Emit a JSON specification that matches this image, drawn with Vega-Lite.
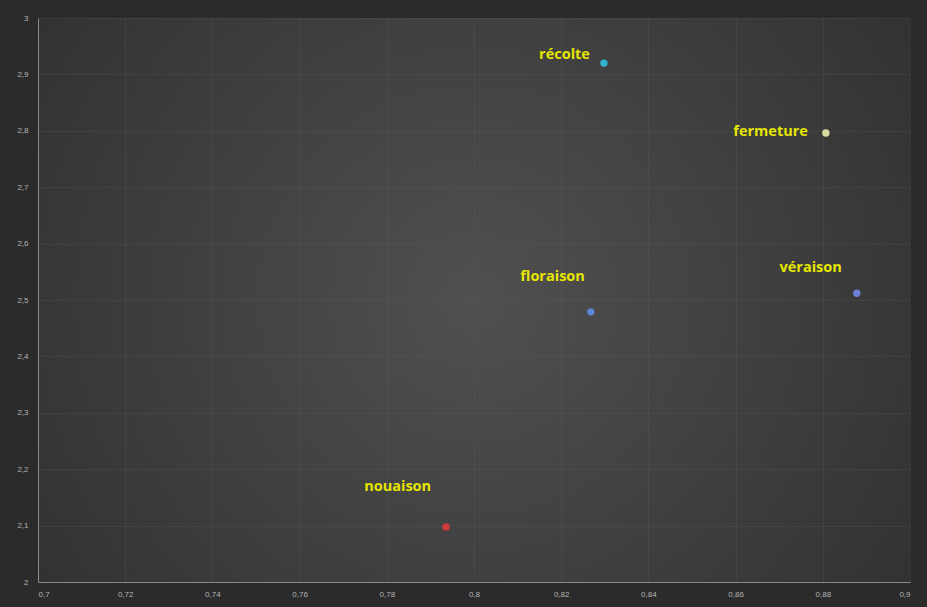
{
  "$schema": "https://vega.github.io/schema/vega-lite/v6.json",
  "width": 872,
  "height": 564,
  "autosize": {"type": "none"},
  "padding": {"left": 38, "top": 18, "right": 17, "bottom": 25},
  "background": "#2b2b2b",
  "config": {
    "view": {
      "stroke": null,
      "fill": {
        "gradient": "radial",
        "x1": 0.5, "y1": 0.5, "r1": 0,
        "x2": 0.5, "y2": 0.5, "r2": 0.75,
        "stops": [
          {"offset": 0, "color": "#505050"},
          {"offset": 1, "color": "#2a2a2a"}
        ]
      }
    },
    "axis": {
      "labelColor": "#b4b4b4",
      "labelFont": "Liberation Sans",
      "labelFontSize": 8,
      "gridColor": "#6a6a6a",
      "gridOpacity": 0.2,
      "domainColor": "#8a8a8a",
      "ticks": false,
      "title": null
    }
  },
  "data": {
    "values": [
      {"stade": "récolte", "x": 0.8298, "y": 2.920},
      {"stade": "fermeture", "x": 0.8807, "y": 2.796},
      {"stade": "véraison", "x": 0.8878, "y": 2.512},
      {"stade": "floraison", "x": 0.8268, "y": 2.479},
      {"stade": "nouaison", "x": 0.7936, "y": 2.0975}
    ]
  },
  "encoding": {
    "x": {
      "field": "x", "type": "quantitative",
      "scale": {"domain": [0.7, 0.9], "nice": false, "zero": false},
      "axis": {
        "values": [0.7, 0.72, 0.74, 0.76, 0.78, 0.8, 0.82, 0.84, 0.86, 0.88, 0.9],
        "labelExpr": "replace(toString(datum.value), '.', ',')",
        "labelPadding": 8
      }
    },
    "y": {
      "field": "y", "type": "quantitative",
      "scale": {"domain": [2, 3], "nice": false, "zero": false},
      "axis": {
        "values": [2, 2.1, 2.2, 2.3, 2.4, 2.5, 2.6, 2.7, 2.8, 2.9, 3],
        "labelExpr": "replace(toString(datum.value), '.', ',')",
        "labelPadding": 10
      }
    }
  },
  "layer": [
    {
      "mark": {"type": "point", "filled": true, "size": 55, "opacity": 1, "strokeWidth": 1},
      "encoding": {
        "color": {
          "field": "stade", "type": "nominal",
          "scale": {
            "domain": ["récolte", "fermeture", "véraison", "floraison", "nouaison"],
            "range": ["#30b4cc", "#d8dc9c", "#6e7ed6", "#5a86d6", "#d23a3a"]
          },
          "legend": null
        }
      }
    },
    {
      "transform": [{"filter": "datum.stade === 'récolte'"}],
      "mark": {"type": "text", "align": "right", "baseline": "middle", "dx": -14, "dy": -8, "font": "Open Sans", "fontSize": 14.5, "fontWeight": "bold", "color": "#e6e600"},
      "encoding": {"text": {"field": "stade"}}
    },
    {
      "transform": [{"filter": "datum.stade === 'fermeture'"}],
      "mark": {"type": "text", "align": "right", "baseline": "middle", "dx": -18, "dy": -1, "font": "Open Sans", "fontSize": 14.5, "fontWeight": "bold", "color": "#e6e600"},
      "encoding": {"text": {"field": "stade"}}
    },
    {
      "transform": [{"filter": "datum.stade === 'véraison'"}],
      "mark": {"type": "text", "align": "right", "baseline": "middle", "dx": -15, "dy": -25, "font": "Open Sans", "fontSize": 14.5, "fontWeight": "bold", "color": "#e6e600"},
      "encoding": {"text": {"field": "stade"}}
    },
    {
      "transform": [{"filter": "datum.stade === 'floraison'"}],
      "mark": {"type": "text", "align": "right", "baseline": "middle", "dx": -6, "dy": -35, "font": "Open Sans", "fontSize": 14.5, "fontWeight": "bold", "color": "#e6e600"},
      "encoding": {"text": {"field": "stade"}}
    },
    {
      "transform": [{"filter": "datum.stade === 'nouaison'"}],
      "mark": {"type": "text", "align": "right", "baseline": "middle", "dx": -15, "dy": -40, "font": "Open Sans", "fontSize": 14.5, "fontWeight": "bold", "color": "#e6e600"},
      "encoding": {"text": {"field": "stade"}}
    }
  ]
}
